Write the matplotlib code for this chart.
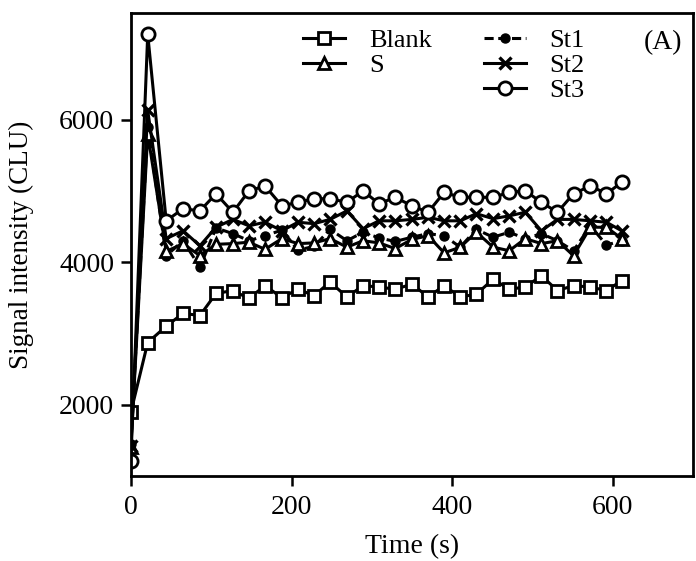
import matplotlib
matplotlib.use("Agg")
import matplotlib.pyplot as plt
from matplotlib.lines import Line2D

plt.rcParams['font.family'] = ['Liberation Serif', 'DejaVu Serif']

# time points (s)
time_s = [0, 21, 44, 65, 86, 106, 127, 147, 167, 188, 208, 228, 248, 269, 289,
          309, 329, 350, 370, 390, 410, 430, 451, 471, 491, 511, 531, 551, 572,
          592, 611]

blank = [1890, 2870, 3100, 3280, 3250, 3560, 3600, 3490, 3670, 3500, 3620,
         3530, 3720, 3510, 3670, 3650, 3620, 3690, 3510, 3670, 3510, 3550,
         3760, 3620, 3650, 3810, 3600, 3670, 3650, 3600, 3740]
s_vals = [1400, 5800, 4150, 4260, 4090, 4250, 4260, 4280, 4180, 4330, 4260,
          4270, 4330, 4210, 4300, 4270, 4190, 4320, 4370, 4130, 4210, 4420,
          4210, 4160, 4330, 4260, 4300, 4090, 4490, 4490, 4330]
st1 = [1450, 5900, 4090, 4300, 3930, 4480, 4400, 4300, 4370, 4450, 4170,
       4220, 4460, 4300, 4420, 4340, 4290, 4350, 4400, 4370, 4210, 4460,
       4350, 4420, 4330, 4400, 4300, 4160, 4510, 4240, 4300]
st2 = [1420, 6130, 4330, 4440, 4230, 4490, 4600, 4510, 4560, 4440, 4560,
       4540, 4600, 4720, 4470, 4580, 4580, 4600, 4630, 4580, 4580, 4680,
       4610, 4650, 4700, 4440, 4600, 4600, 4580, 4560, 4440]
st3 = [1210, 7200, 4580, 4750, 4720, 4960, 4700, 5000, 5070, 4790, 4840,
       4890, 4890, 4840, 5000, 4820, 4910, 4790, 4700, 4980, 4910, 4910,
       4910, 4980, 5000, 4840, 4700, 4960, 5070, 4960, 5120]

fig = plt.figure(figsize=(6.96, 5.61), dpi=100)
ax = fig.add_axes([0.188, 0.152, 0.808, 0.825])

lw = 2.2
mew = 2.0
h_blank, = ax.plot(time_s, blank, '-', color='black', lw=lw, marker='s',
                   ms=8.5, mfc='white', mec='black', mew=mew, label='Blank')
h_st1, = ax.plot(time_s, st1, color='black', lw=lw, ls=(0, (3, 1.5)),
                 marker='o', ms=6.5, mfc='black', mec='black', label='St1')
h_s, = ax.plot(time_s, s_vals, '-', color='black', lw=lw, marker='^',
               ms=8, mfc='white', mec='black', mew=mew, label='S')
h_st2, = ax.plot(time_s, st2, '-', color='black', lw=lw, marker='x',
                 ms=8.5, mec='black', mew=2.4, label='St2')
h_st3, = ax.plot(time_s, st3, '-', color='black', lw=lw, marker='o',
                 ms=9.5, mfc='white', mec='black', mew=mew, label='St3')

ax.set_xlim(0, 700)
ax.set_ylim(1000, 7500)
ax.set_xticks([0, 200, 400, 600])
ax.set_yticks([2000, 4000, 6000])
ax.tick_params(direction='out', length=7, width=1.8, labelsize=20,
               top=False, right=False)
ax.tick_params(axis='x', pad=7)
ax.tick_params(axis='y', pad=5)
for sp in ax.spines.values():
    sp.set_linewidth(2.0)

ax.set_xlabel('Time (s)', fontsize=20, labelpad=10)
ax.set_ylabel('Signal intensity (CLU)', fontsize=19.5, labelpad=18)

blank_h = Line2D([], [], linestyle='none', marker='none')
leg = ax.legend([h_blank, h_s, blank_h, h_st1, h_st2, h_st3],
                ['Blank', 'S', '', 'St1', 'St2', 'St3'],
                ncol=2, frameon=False, fontsize=19, handlelength=1.6,
                handletextpad=0.9, columnspacing=1.97, labelspacing=0.05,
                loc='upper left', bbox_to_anchor=(0.278, 1.0),
                borderaxespad=0.2)

ax.text(0.98, 0.963, '(A)', transform=ax.transAxes, ha='right', va='top',
        fontsize=20)

fig.savefig('out.png', dpi=100)
